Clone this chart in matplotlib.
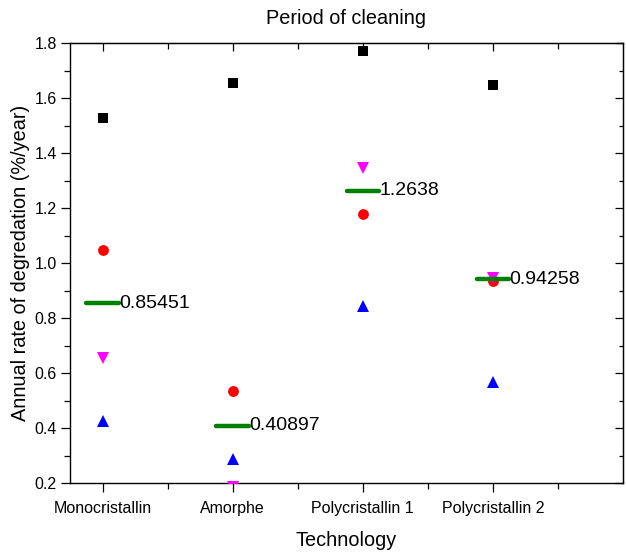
import matplotlib
matplotlib.use("Agg")
import matplotlib.pyplot as plt
import numpy as np

plt.rcParams['font.family'] = ['Liberation Sans', 'DejaVu Sans']

categories = ["Monocristallin", "Amorphe", "Polycristallin 1", "Polycristallin 2"]
series_square = [1.530, 1.657, 1.773, 1.648]
series_circle = [1.048, 0.535, 1.178, 0.937]
series_down = [0.656, 0.185, 1.348, 0.946]
series_up = [0.425, 0.288, 0.845, 0.568]
mean_values = [0.85451, 0.40897, 1.2638, 0.94258]
mean_labels = ["0.85451", "0.40897", "1.2638", "0.94258"]

fig = plt.figure(figsize=(6.26, 5.58), dpi=100)
ax = fig.add_axes([70/626, 1-483.3/558, (623-70)/626, (483.3-43.3)/558])

x = np.arange(1, len(categories) + 1)

ax.plot(x, series_square, ls='none', marker='s', ms=7.0, mew=0, color='black', zorder=3)
ax.plot(x, series_circle, ls='none', marker='o', ms=7.8, mew=0, color='#ff0000', zorder=3)
ax.plot(x, series_down, ls='none', marker='v', ms=9.0, mew=0, color='#ff00ff', zorder=3)
ax.plot(x, series_up, ls='none', marker='^', ms=9.0, mew=0, color='#0000ff', zorder=3)

hw = 0.125
ax.hlines(mean_values, x - hw, x + hw, colors='#008000', lw=3.2, capstyle='round', zorder=4)
for xi, yi, lab in zip(x, mean_values, mean_labels):
    ax.text(xi + hw, yi, lab, ha='left', va='center', fontsize=14, color='black', zorder=5)

ax.set_xlim(0.75, 5.0)
ax.set_ylim(0.2, 1.8)

ax.set_xticks(x)
ax.set_xticklabels(categories, fontsize=11.5)
ax.set_xticks(x + 0.5, minor=True)
ax.set_yticks(np.arange(0.2, 1.81, 0.2))
ax.set_yticklabels([f"{v:.1f}" for v in np.arange(0.2, 1.81, 0.2)], fontsize=11.5)
ax.set_yticks(np.arange(0.3, 1.8, 0.2), minor=True)

ax.tick_params(axis='both', which='major', direction='out', length=6.5, width=0.9, pad=3)
ax.tick_params(axis='both', which='minor', direction='out', length=4, width=0.9)
ax.tick_params(axis='x', which='major', pad=6)

for s in ax.spines.values():
    s.set_linewidth(1.0)

top = ax.secondary_xaxis('top')
top.set_xticks(x)
top.set_xticks(x + 0.5, minor=True)
top.tick_params(which='major', direction='in', length=6, width=0.9, labeltop=False)
top.tick_params(which='minor', direction='in', length=4, width=0.9)
top.set_xticklabels([])

right = ax.secondary_yaxis('right')
right.set_yticks(np.arange(0.2, 1.81, 0.2))
right.set_yticks(np.arange(0.3, 1.8, 0.2), minor=True)
right.tick_params(which='major', direction='in', length=6, width=0.9, labelright=False)
right.tick_params(which='minor', direction='in', length=3, width=0.9)
right.set_yticklabels([])

ax.set_xlabel("Technology", fontsize=14.3, labelpad=11)
ax.set_ylabel("Annual rate of degredation (%/year)", fontsize=14.3, labelpad=3)
ax.set_title("Period of cleaning", fontsize=14.3, pad=14)

fig.savefig("out.png", dpi=100)
